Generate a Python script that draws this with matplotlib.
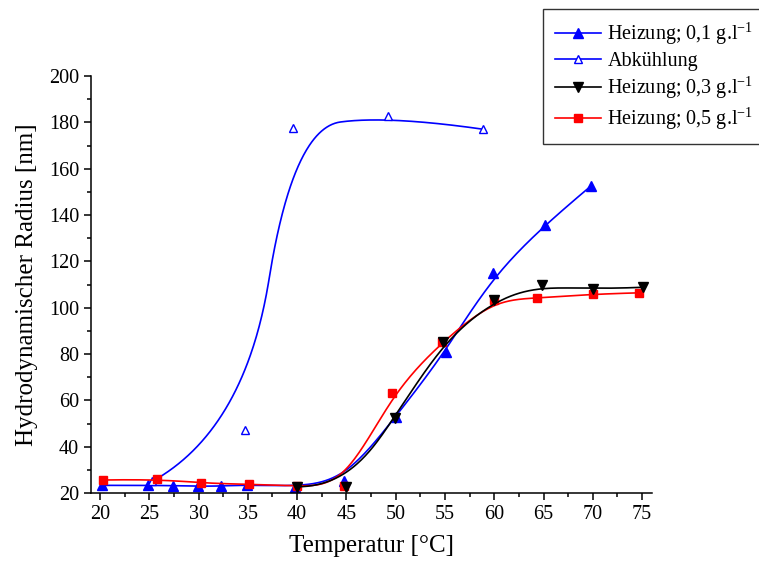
import numpy as np
import matplotlib
matplotlib.use("Agg")
import matplotlib.pyplot as plt
from matplotlib.ticker import MultipleLocator

plt.rcParams['font.family'] = ['Liberation Serif', 'DejaVu Serif']
plt.rcParams['mathtext.fontset'] = 'custom'
plt.rcParams['mathtext.rm'] = 'Liberation Serif'
plt.rcParams['mathtext.it'] = 'Liberation Serif:italic'

# Heizung 0,1 g/l
t_h01 = [20.2, 24.9, 27.4, 29.9, 32.3, 34.9, 39.8, 44.8, 50.0, 55.1, 59.9, 65.1, 69.8]
r_h01 = [23.3, 23.3, 23.2, 22.9, 23.0, 23.5, 22.8, 25.3, 53.0, 81.0, 114.8, 135.7, 152.5]

# Abkuehlung
t_ab = [25.3, 34.7, 39.6, 49.2, 58.9]
r_ab = [25.0, 47.2, 177.4, 182.9, 177.0]

# Heizung 0,3 g/l
t_h03 = [40.0, 45.0, 49.9, 54.8, 60.0, 64.8, 70.0, 75.1]
r_h03 = [22.7, 22.7, 52.5, 85.3, 103.3, 109.9, 107.9, 108.8]

# Heizung 0,5 g/l
t_h05 = [20.3, 25.75, 30.2, 35.1, 40.0, 44.8, 49.6, 54.7, 60.0, 64.3, 70.0, 74.7]
r_h05 = [25.6, 26.0, 24.2, 23.8, 23.0, 23.0, 63.0, 85.3, 103.5, 104.0, 105.9, 106.4]

labels = ['Heizung; 0,1 g.l$^{-1}$', 'Abkühlung',
          'Heizung; 0,3 g.l$^{-1}$', 'Heizung; 0,5 g.l$^{-1}$']
x_ticks = [20, 25, 30, 35, 40, 45, 50, 55, 60, 65, 70, 75]
y_ticks = [20, 40, 60, 80, 100, 120, 140, 160, 180, 200]


def basis(t, i, d, u):
    # Cox-de Boor recursion
    if d == 0:
        return ((t[i] <= u) & (u < t[i + 1])).astype(float)
    out = np.zeros_like(u)
    if t[i + d] != t[i]:
        out += (u - t[i]) / (t[i + d] - t[i]) * basis(t, i, d - 1, u)
    if t[i + d + 1] != t[i + 1]:
        out += (t[i + d + 1] - u) / (t[i + d + 1] - t[i + 1]) * basis(t, i + 1, d - 1, u)
    return out


def bspline(xs, ys, k=3, num=400):
    # clamped B-spline with the measured points as control points
    xs = np.asarray(xs, float)
    ys = np.asarray(ys, float)
    n = len(xs)
    t = np.concatenate([[0.0] * k, np.linspace(0, 1, n - k + 1), [1.0] * k])
    u = np.linspace(0, 1, num)
    u[-1] -= 1e-9
    bx = np.zeros(num)
    by = np.zeros(num)
    for i in range(n):
        b = basis(t, i, k, u)
        bx += b * xs[i]
        by += b * ys[i]
    return bx, by


def draw(ax, xs, ys, color, marker, filled, size, label, k=3):
    cx, cy = bspline(xs, ys, k)
    ax.plot(cx, cy, color=color, lw=1.2)
    ax.plot(xs, ys, ls='none', marker=marker, ms=size, mec=color,
            mfc=color if filled else 'white', mew=1.0)
    ax.plot([], [], color=color, lw=1.2, marker=marker, ms=size, mec=color,
            mfc=color if filled else 'white', mew=1.0, label=label)


def main():
    fig = plt.figure(figsize=(7.59, 5.69), dpi=100)
    ax = fig.add_axes([91 / 759, 1 - 493 / 569, (652 - 91) / 759, (493 - 76) / 569])

    draw(ax, t_h01, r_h01, '#0000ff', '^', True, 7, labels[0])
    draw(ax, t_ab, r_ab, '#0000ff', '^', False, 6, labels[1], k=2)
    draw(ax, t_h05, r_h05, '#ff0000', 's', True, 5.5, labels[3])
    draw(ax, t_h03, r_h03, 'black', 'v', True, 7, labels[2])

    ax.set_xlim(19.09, 76.0)
    ax.set_ylim(20, 200)
    ax.set_xticks(x_ticks)
    ax.set_yticks(y_ticks)
    ax.xaxis.set_minor_locator(MultipleLocator(2.5))
    ax.yaxis.set_minor_locator(MultipleLocator(10))
    ax.spines['top'].set_visible(False)
    ax.spines['right'].set_visible(False)
    for s in ['left', 'bottom']:
        ax.spines[s].set_linewidth(1.1)
    ax.tick_params(which='major', direction='out', length=5, width=1.1, labelsize=14.5)
    ax.tick_params(which='minor', direction='out', length=2.8, width=1.1)

    ax.set_xlabel('Temperatur [°C]', fontsize=18, labelpad=8)
    ax.set_ylabel('Hydrodynamischer Radius [nm]', fontsize=18, labelpad=8)

    h, l = ax.get_legend_handles_labels()
    by_label = dict(zip(l, h))
    fig.legend([by_label[x] for x in labels], labels, loc='upper left',
               bbox_to_anchor=(543 / 759, 1 - 9 / 569), borderaxespad=0,
               fontsize=14.5, frameon=True, fancybox=False, edgecolor='black',
               numpoints=1, handlelength=2.3, handletextpad=0.3,
               labelspacing=0.22, borderpad=0.6)

    fig.savefig('out.png', dpi=100)


if __name__ == "__main__":
    main()
